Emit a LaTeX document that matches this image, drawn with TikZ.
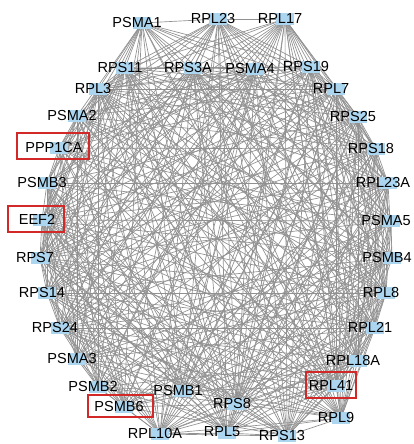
\documentclass[tikz,border=0pt]{standalone}
\usepackage{fontspec}
\setmainfont{Liberation Sans}
\pgfdeclarelayer{bg}
\pgfsetlayers{bg,main}
\definecolor{nodeblue}{RGB}{172,214,240}
\definecolor{edgegray}{RGB}{145,145,145}
\definecolor{boxred}{RGB}{210,40,40}
\tikzset{
  nodebox/.style={draw=none,fill=nodeblue,minimum width=13.5pt,minimum height=9.5pt,inner sep=0pt},
  lbl/.style={inner sep=0pt,font=\fontsize{10.9}{13}\selectfont,text=black},
  edge/.style={draw=edgegray,line width=0.5pt},
  redbox/.style={draw=boxred,line width=1.2pt,inner sep=0pt}
}
\begin{document}
\begin{tikzpicture}[x=0.75pt,y=-0.75pt]
\useasboundingbox (0,0) rectangle (414,444);
\foreach \n/\x/\y in {
 PSMA1/137/22, RPL23/213/18, RPL17/280/18,
 RPS11/120/67, RPS3A/188/67, PSMA4/250/68, RPS19/306/66,
 RPL3/93/88, RPL7/331/88, PSMA2/72/115, RPS25/353/116,
 PPP1CA/54/147, RPS18/371/148, PSMB3/42/182, RPL23A/383/182,
 EEF2/37/219, PSMA5/386/220, RPS7/35/257, PSMB4/387/257,
 RPS14/42/292, RPL8/381/292, RPS24/55/327, RPL21/370/327,
 PSMA3/72/358, RPL18A/353/360, PSMB2/93/386, RPL41/331/385,
 PSMB1/178/390, PSMB6/119/406, RPS8/232/403, RPL9/336/417,
 RPL10A/155/433, RPL5/222/432, RPS13/282/435}{
  \node[nodebox] (\n) at (\x+5,\y+1) {};
  \node[lbl] (\n-l) at (\x,\y) {\n};
}
\node[redbox,minimum width=54pt,minimum height=19.5pt] (r1) at (53,146) {};
\node[redbox,minimum width=42pt,minimum height=19.5pt] (r2) at (36,219) {};
\node[redbox,minimum width=37.5pt,minimum height=19.5pt] (r3) at (331,385) {};
\node[redbox,minimum width=48.75pt,minimum height=16.5pt] (r4) at (120.5,406) {};
\def\RPlist{RPL23,RPL17,RPS11,RPS3A,RPS19,RPL3,RPL7,RPS25,RPS18,RPL23A,RPS7,RPS14,RPL8,RPS24,RPL21,RPL18A,RPL41,RPS8,RPL9,RPL10A,RPL5,RPS13}
\def\PSMlist{PSMA1,PSMA4,PSMA2,PSMB3,PSMA5,PSMB4,PSMA3,PSMB2,PSMB1,PSMB6}
\begin{pgfonlayer}{bg}
\foreach \a [count=\i] in \RPlist {
  \foreach \b [count=\j] in \RPlist {
    \ifnum\j>\i \draw[edge] (\a.center) -- (\b.center); \fi
  }
}
\foreach \a [count=\i] in \PSMlist {
  \foreach \b [count=\j] in \PSMlist {
    \ifnum\j>\i \draw[edge] (\a.center) -- (\b.center); \fi
  }
}
\foreach \a [count=\i] in \PSMlist {
  \foreach \b [count=\j] in \RPlist {
    \pgfmathtruncatemacro\m{mod(\i+\j,2)}
    \ifnum\m=0 \draw[edge] (\a.center) -- (\b.center); \fi
  }
}
\foreach \b [count=\j] in \RPlist {
  \draw[edge] (EEF2.center) -- (\b.center);
  \pgfmathtruncatemacro\m{mod(\j,2)}
  \ifnum\m=1 \draw[edge] (PPP1CA.center) -- (\b.center); \fi
}
\foreach \b in \PSMlist {
  \draw[edge] (PPP1CA.center) -- (\b.center);
  \draw[edge] (EEF2.center) -- (\b.center);
}
\end{pgfonlayer}
\end{tikzpicture}
\end{document}
